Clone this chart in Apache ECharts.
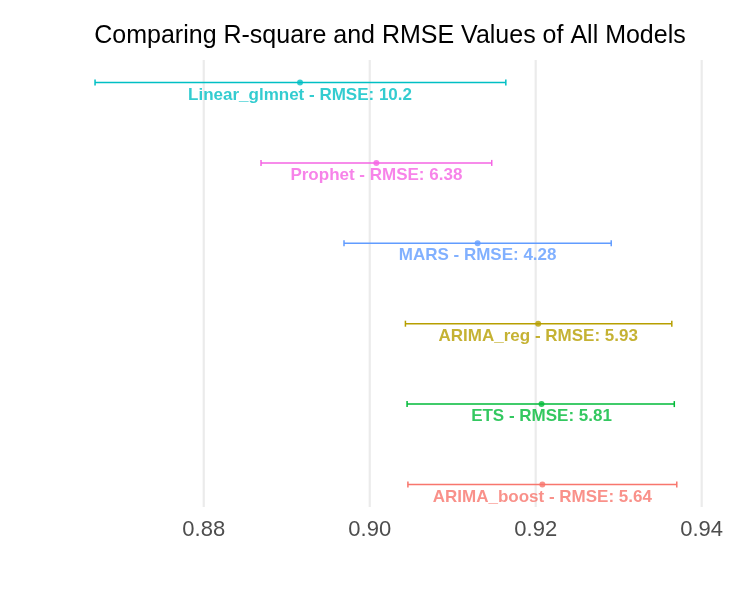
<!DOCTYPE html>
<html>
<head>
<meta charset="utf-8">
<script src="https://cdn.jsdelivr.net/npm/echarts@6/dist/echarts.min.js"></script>
<style>html,body{margin:0;padding:0;background:#fff}#c{width:750px;height:601px}</style>
</head>
<body>
<div id="c"></div>
<script>
var models = ['Linear_glmnet', 'Prophet', 'MARS', 'ARIMA_reg', 'ETS', 'ARIMA_boost'];
var rsq = [0.8916, 0.9008, 0.9130, 0.9203, 0.9207, 0.9208];
var lower = [0.8669, 0.8869, 0.8969, 0.9043, 0.9045, 0.9046];
var upper = [0.9164, 0.9147, 0.9291, 0.9364, 0.9367, 0.9370];
var rmse = ['10.2', '6.38', '4.28', '5.93', '5.81', '5.64'];
var colors = ['#00BFC4', '#F564E3', '#619CFF', '#B79F00', '#00BA38', '#F8766D'];
var xTicks = [0.88, 0.90, 0.92, 0.94];

var chart = echarts.init(document.getElementById('c'), null, {renderer: 'canvas'});
var barData = models.map(function (m, i) { return [lower[i], upper[i], i]; });
var ptData = models.map(function (m, i) {
  return {value: [rsq[i], i], itemStyle: {color: colors[i]},
    label: {color: colors[i]}};
});
chart.setOption({
  animation: false,
  title: {
    text: 'Comparing R-square and RMSE Values of All Models',
    left: 385, top: 19, textAlign: 'center',
    textStyle: {fontFamily: 'Liberation Sans', fontWeight: 'normal', fontSize: 25, color: '#000'}
  },
  grid: {left: 66, right: 45, top: 60, bottom: 94},
  xAxis: {
    type: 'value', min: 0.8634, max: 0.9404,
    axisLine: {show: false}, axisTick: {show: false},
    splitLine: {show: false},
    axisLabel: {
      customValues: xTicks, fontSize: 22, color: '#4D4D4D', margin: 12,
      fontFamily: 'Liberation Sans',
      formatter: function (v) { return v.toFixed(2); }
    }
  },
  yAxis: {
    type: 'value', min: -0.28, max: 5.28, inverse: true, show: false
  },
  series: [
    {
      type: 'custom',
      silent: true,
      data: xTicks.map(function (t) { return [t]; }),
      renderItem: function (params, api) {
        var x = api.coord([api.value(0), 0])[0];
        var cs = params.coordSys;
        return {type: 'line', shape: {x1: x, y1: cs.y, x2: x, y2: cs.y + cs.height},
          style: {stroke: '#EBEBEB', lineWidth: 2.2}};
      },
      z: 0
    },
    {
      type: 'custom',
      data: barData,
      renderItem: function (params, api) {
        var i = api.value(2);
        var p1 = api.coord([api.value(0), i]);
        var p2 = api.coord([api.value(1), i]);
        var st = {stroke: colors[i], lineWidth: 1.5};
        return {type: 'group', children: [
          {type: 'line', shape: {x1: p1[0], y1: p1[1], x2: p2[0], y2: p2[1]}, style: st},
          {type: 'line', shape: {x1: p1[0], y1: p1[1] - 3, x2: p1[0], y2: p1[1] + 3}, style: st},
          {type: 'line', shape: {x1: p2[0], y1: p2[1] - 3, x2: p2[0], y2: p2[1] + 3}, style: st}
        ]};
      },
      z: 2
    },
    {
      type: 'scatter',
      symbolSize: 6,
      data: ptData,
      label: {
        show: true, position: 'bottom', distance: 1,
        fontFamily: 'Liberation Sans', fontWeight: 'bold', fontSize: 17,
        formatter: function (p) { return models[p.dataIndex] + ' - RMSE: ' + rmse[p.dataIndex]; }
      },
      z: 3
    }
  ]
});
</script>
</body>
</html>
